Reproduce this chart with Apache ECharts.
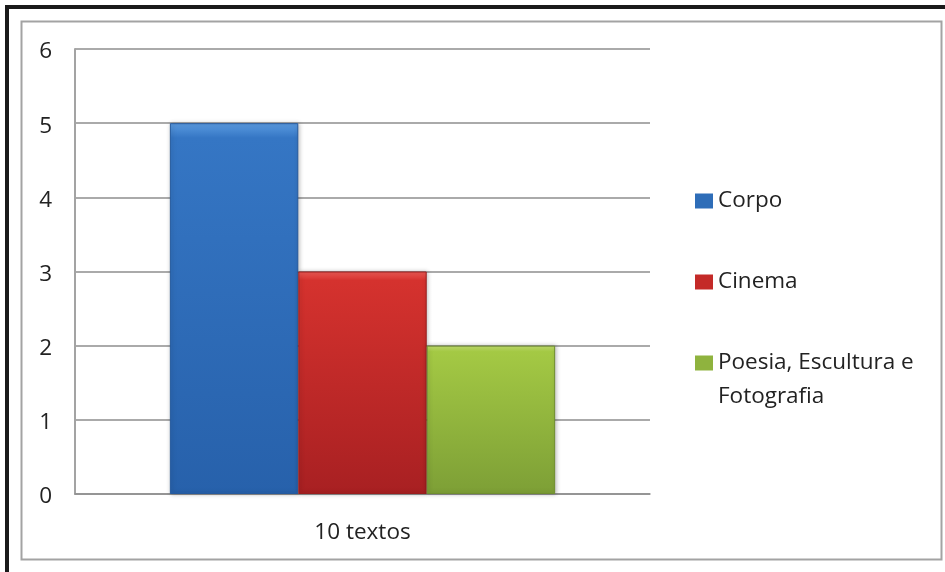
<!DOCTYPE html>
<html>
<head>
<meta charset="utf-8">
<script src="https://cdn.jsdelivr.net/npm/echarts@6/dist/echarts.min.js"></script>
<style>
html,body{margin:0;padding:0;background:#fff;}
#c{width:945px;height:572px;}
</style>
</head>
<body>
<div id="c"></div>
<script>
const categories = ['10 textos'];
const seriesNames = ['Corpo', 'Cinema', 'Poesia, Escultura e Fotografia'];
const corpo = [5];
const cinema = [3];
const poesia = [2];
const yTicks = [0, 1, 2, 3, 4, 5, 6];

const FONT = '"Open Sans", sans-serif';
const FS = 22.5;
const chart = echarts.init(document.getElementById('c'), null, {renderer: 'canvas'});

function grad(top, mid, bottom) {
  return new echarts.graphic.LinearGradient(0, 0, 0, 1, [
    {offset: 0, color: top}, {offset: 0.04, color: mid}, {offset: 1, color: bottom}
  ]);
}

const colors = [
  {bar: grad('#5a9ae0', '#3576c4', '#2761ab'), icon: '#2e6db8', border: '#255a9e'},
  {bar: grad('#ec5a55', '#d5322e', '#a82022'), icon: '#c42a28', border: '#9a1e1e'},
  {bar: grad('#c4e070', '#a4c944', '#7d9f36'), icon: '#8fb33e', border: '#6f8e2e'}
];
const values = [corpo, cinema, poesia];

const series = seriesNames.map((name, i) => ({
  name: name,
  type: 'bar',
  data: values[i],
  barGap: '0%',
  barCategoryGap: '33%',
  itemStyle: {
    color: colors[i].bar,
    borderColor: colors[i].border,
    borderWidth: 1,
    shadowColor: 'rgba(0,0,0,0.25)',
    shadowBlur: 4,
    shadowOffsetX: 1
  },
  emphasis: {disabled: true}
}));

const legendTop = [179, 260, 307];
const legends = seriesNames.map((name, i) => ({
  data: [{name: name, itemStyle: {color: colors[i].icon, borderWidth: 0, shadowBlur: 0}}],
  left: 690,
  top: legendTop[i],
  itemWidth: 18,
  itemHeight: 15,
  itemGap: 8,
  icon: 'rect',
  selectedMode: false,
  textStyle: {fontFamily: FONT, fontSize: FS, color: '#222', lineHeight: 34},
  formatter: i === 2 ? '\nPoesia, Escultura e\nFotografia' : '{name}'
}));

chart.setOption({
  animation: false,
  backgroundColor: '#fff',
  graphic: [
    {type: 'rect', shape: {x: 5, y: 5, width: 960, height: 4}, style: {fill: '#1a1a1a'}, silent: true},
    {type: 'rect', shape: {x: 5, y: 5, width: 4, height: 600}, style: {fill: '#1a1a1a'}, silent: true},
    {type: 'rect', shape: {x: 21.5, y: 21.5, width: 920, height: 538}, style: {fill: 'none', stroke: '#a3a3a3', lineWidth: 2}, silent: true}
  ],
  legend: legends,
  grid: {left: 75, right: 295, top: 49, bottom: 78, containLabel: false},
  xAxis: {
    type: 'category',
    data: categories,
    axisLine: {show: true, lineStyle: {color: '#8e8e8e', width: 1.5}},
    axisTick: {show: false},
    axisLabel: {fontFamily: FONT, fontSize: FS, color: '#222', margin: 27}
  },
  yAxis: {
    type: 'value',
    min: 0, max: 6, interval: 1,
    axisLine: {show: true, lineStyle: {color: '#a3a3a3', width: 2}},
    axisTick: {show: false},
    splitLine: {lineStyle: {color: '#8e8e8e', width: 1.5}},
    axisLabel: {
      fontFamily: FONT, fontSize: FS, color: '#222', margin: 23,
      formatter: v => yTicks.includes(v) ? '{a|' + v + '}' : '',
      rich: {a: {fontFamily: FONT, fontSize: FS, color: '#222', padding: [6, 0, 0, 0]}}
    }
  },
  series: series
});
</script>
</body>
</html>
